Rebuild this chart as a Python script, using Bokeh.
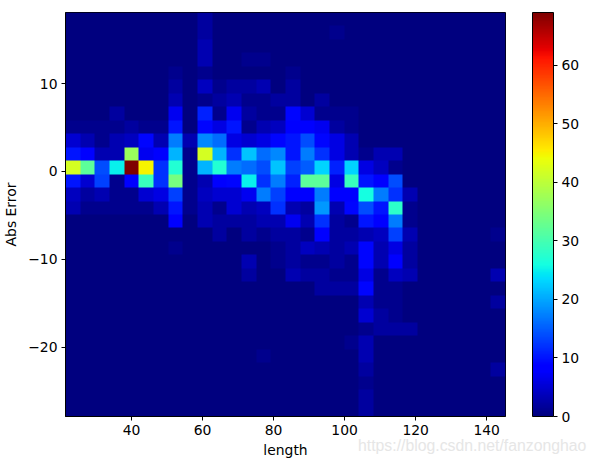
import numpy as np
from bokeh.embed import file_html
from bokeh.layouts import column
from bokeh.resources import INLINE
from bokeh.plotting import figure
from bokeh.models import LinearColorMapper, ColorBar, FixedTicker, Div

x_min, x_max = 21.4, 145.3
y_min, y_max = -27.9, 18.1
n_cols = 30

# counts per row, top row first; each row lists {column index: count}, others are 0
row_00 = {9: 2}
row_01 = {9: 2, 18: 1}
row_02 = {9: 3}
row_03 = {9: 3, 12: 1, 13: 1}
row_04 = {7: 1, 9: 1, 15: 1}
row_05 = {7: 2, 9: 4, 10: 1, 11: 2, 12: 2, 13: 3, 15: 2}
row_06 = {7: 3, 9: 1, 10: 2, 11: 3, 12: 1, 13: 1, 14: 2, 15: 2, 17: 2}
row_07 = {3: 2, 7: 7, 9: 11, 10: 1, 11: 7, 12: 2, 13: 1, 14: 1, 15: 9, 16: 5, 17: 1, 18: 1, 19: 1}
row_08 = {0: 1, 1: 1, 2: 1, 3: 1, 4: 2, 5: 1, 6: 1, 7: 10, 9: 9, 10: 6, 11: 10, 12: 1, 13: 3, 14: 4, 15: 8, 16: 8, 17: 7, 18: 2, 19: 1}
row_09 = {0: 5, 1: 3, 2: 1, 3: 3, 4: 4, 5: 9, 6: 3, 7: 17, 8: 3, 9: 18, 10: 16, 11: 6, 12: 5, 13: 6, 14: 9, 15: 10, 16: 14, 17: 9, 18: 6, 19: 3}
row_10 = {0: 10, 1: 8, 2: 3, 3: 3, 4: 37, 5: 7, 6: 8, 7: 21, 8: 1, 9: 42, 10: 21, 11: 12, 12: 22, 13: 16, 14: 18, 15: 10, 16: 17, 17: 12, 18: 6, 19: 3, 20: 1, 21: 3, 22: 3}
row_11 = {0: 42, 1: 32, 2: 14, 3: 25, 4: 69, 5: 45, 6: 12, 7: 27, 8: 1, 9: 21, 10: 27, 11: 17, 12: 16, 13: 14, 14: 22, 15: 13, 16: 15, 17: 23, 18: 11, 19: 23, 20: 6, 21: 4, 22: 1}
row_12 = {0: 10, 1: 5, 2: 13, 3: 1, 4: 8, 5: 29, 6: 12, 7: 34, 8: 1, 9: 3, 10: 8, 11: 9, 12: 25, 13: 12, 14: 17, 15: 11, 16: 32, 17: 32, 18: 6, 19: 29, 20: 10, 21: 8, 22: 14}
row_13 = {0: 4, 1: 2, 2: 3, 3: 1, 4: 1, 5: 5, 6: 6, 7: 13, 8: 1, 9: 4, 10: 5, 11: 5, 12: 7, 13: 17, 14: 13, 15: 8, 16: 8, 17: 17, 18: 8, 19: 8, 20: 26, 21: 17, 22: 12, 23: 3}
row_14 = {0: 3, 1: 1, 2: 1, 3: 1, 4: 1, 5: 1, 6: 3, 7: 10, 8: 1, 9: 3, 10: 1, 11: 5, 12: 3, 13: 4, 14: 12, 15: 3, 16: 2, 17: 19, 18: 3, 19: 9, 20: 14, 21: 10, 22: 28, 23: 1}
row_15 = {7: 8, 9: 3, 10: 2, 11: 2, 12: 2, 13: 3, 14: 3, 15: 7, 16: 3, 17: 12, 18: 2, 19: 1, 20: 10, 21: 8, 22: 17, 23: 1}
row_16 = {10: 2, 12: 2, 13: 1, 14: 2, 15: 2, 16: 1, 17: 8, 18: 2, 19: 2, 20: 3, 21: 4, 22: 13, 23: 3, 29: 1}
row_17 = {7: 1, 14: 1, 15: 2, 16: 4, 17: 3, 18: 2, 19: 3, 20: 9, 21: 3, 22: 6, 23: 2}
row_18 = {12: 3, 14: 1, 15: 2, 16: 1, 17: 1, 18: 2, 19: 1, 20: 9, 21: 3, 22: 8, 23: 2}
row_19 = {12: 2, 15: 3, 16: 2, 17: 2, 18: 1, 19: 1, 20: 6, 21: 1, 22: 4, 23: 3, 29: 3}
row_20 = {17: 2, 18: 2, 19: 2, 20: 9, 21: 1, 22: 1}
row_21 = {20: 3, 21: 1, 22: 1, 29: 2}
row_22 = {20: 5, 21: 2, 22: 1}
row_23 = {20: 1, 21: 2, 22: 2, 23: 2}
row_24 = {19: 1, 20: 3}
row_25 = {13: 1, 20: 3}
row_26 = {20: 2, 29: 2}
row_27 = {20: 1}
row_28 = {20: 2}
row_29 = {20: 2}

rows = [row_00, row_01, row_02, row_03, row_04, row_05, row_06, row_07, row_08, row_09,
        row_10, row_11, row_12, row_13, row_14, row_15, row_16, row_17, row_18, row_19,
        row_20, row_21, row_22, row_23, row_24, row_25, row_26, row_27, row_28, row_29]

x_ticks = [40, 60, 80, 100, 120, 140]
y_ticks = [-20, -10, 0, 10]
y_tick_labels = {-20: "\u221220", -10: "\u221210", 0: "0", 10: "10"}
bar_ticks = [0, 10, 20, 30, 40, 50, 60]
value_max = 69
watermark = "https://blog.csdn.net/fanzonghao"

# jet colour map
t = np.linspace(0, 1, 256)
r = np.interp(t, [0, 0.35, 0.66, 0.89, 1], [0, 0, 1, 1, 0.5])
g = np.interp(t, [0, 0.125, 0.375, 0.64, 0.91, 1], [0, 0, 1, 1, 0, 0])
b = np.interp(t, [0, 0.11, 0.34, 0.65, 1], [0.5, 1, 1, 0, 0])
jet = ["#%02x%02x%02x" % (int(a * 255), int(c * 255), int(d * 255)) for a, c, d in zip(r, g, b)]
mapper = LinearColorMapper(palette=jet, low=0, high=value_max)

# image rows run bottom to top
grid = np.array([[row.get(j, 0) for j in range(n_cols)] for row in rows[::-1]], dtype=float)

p = figure(frame_width=440, frame_height=404, x_range=(x_min, x_max), y_range=(y_min, y_max),
           output_backend="svg", toolbar_location=None, min_border_left=57, min_border_top=12,
           min_border_right=0, min_border_bottom=41, background_fill_color="white", border_fill_color="white")
p.image(image=[grid], x=x_min, y=y_min, dw=x_max - x_min, dh=y_max - y_min, color_mapper=mapper)

p.grid.visible = False
p.outline_line_color = "black"
p.outline_line_width = 1
font = "DejaVu Sans"
for ax in (p.xaxis[0], p.yaxis[0]):
    ax.major_tick_out = 4
    ax.major_tick_in = 0
    ax.minor_tick_line_color = None
    ax.axis_line_color = "black"
    ax.major_tick_line_color = "black"
    ax.major_label_text_font = font
    ax.major_label_text_font_size = "13.9px"
    ax.major_label_text_color = "black"
    ax.axis_label_text_font = font
    ax.axis_label_text_font_size = "13.9px"
    ax.axis_label_text_font_style = "normal"
    ax.axis_label_text_color = "black"
    ax.major_label_standoff = 4
p.xaxis[0].ticker = FixedTicker(ticks=x_ticks)
p.yaxis[0].ticker = FixedTicker(ticks=y_ticks)
p.yaxis[0].major_label_overrides = y_tick_labels
p.xaxis[0].axis_label = "length"
p.yaxis[0].axis_label = "Abs Error"
p.xaxis[0].axis_label_standoff = 4
p.yaxis[0].axis_label_standoff = 6

cb = ColorBar(color_mapper=mapper, ticker=FixedTicker(ticks=bar_ticks), width=21, height=404,
              margin=0, padding=0, bar_line_color="black", bar_line_width=1,
              major_tick_out=4, major_tick_in=0, major_tick_line_color="black", minor_tick_line_color=None,
              major_label_text_font=font, major_label_text_font_size="13.9px", major_label_text_color="black",
              label_standoff=4, location=(27, 0), border_line_color=None, background_fill_color=None)
p.add_layout(cb, "right")

mark = Div(text=watermark, width=232, height=18, margin=(-23, 0, 0, 358),
           styles={"font-family": "Liberation Sans", "font-size": "15.8px", "color": "#e6e6e6",
                   "line-height": "18px", "white-space": "nowrap"})

open("out.html", "w").write(file_html(column(p, mark, spacing=0), INLINE))
